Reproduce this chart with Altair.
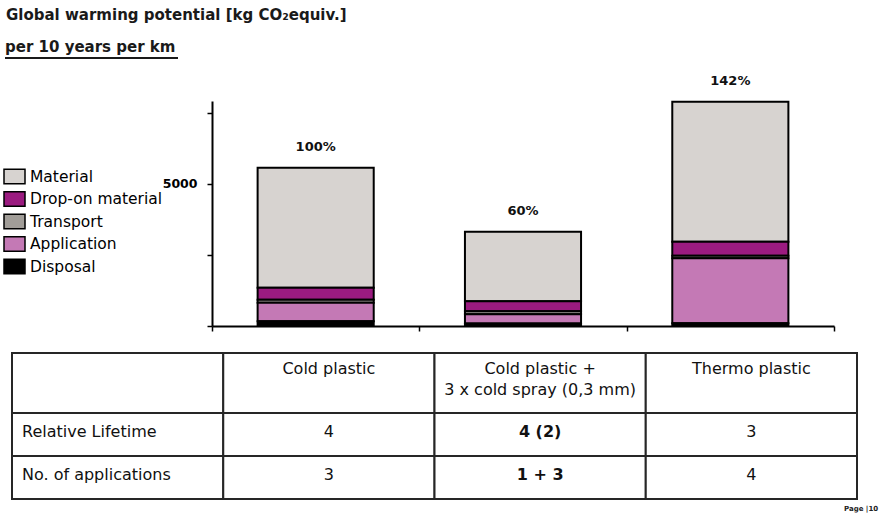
import altair as alt
import pandas as pd

# Product systems compared
categories = ["Cold plastic", "Cold plastic + 3 x cold spray (0,3 mm)", "Thermo plastic"]

# Life-cycle stages, listed top of the stack first
components = ["Material", "Drop-on material", "Transport", "Application", "Disposal"]
component_colors = ["#D7D3D0", "#9B1B80", "#A19D98", "#C479B5", "#000000"]

# Global warming potential per stage [kg CO2 equiv.] for each product system
material = [4220, 2450, 4930]
drop_on = [430, 350, 490]
transport = [100, 110, 90]
application = [650, 320, 2290]
disposal = [170, 90, 95]

# Totals relative to cold plastic
share_labels = ["100%", "60%", "142%"]

# Table under the chart
header_texts = ["", "Cold plastic", "Cold plastic +\n3 x cold spray (0,3 mm)", "Thermo plastic"]
row_labels = ["Relative Lifetime", "No. of applications"]
relative_lifetime = ["4", "4 (2)", "3"]
no_of_applications = ["3", "1 + 3", "4"]
emphasised = [False, True, False]

SANS = "DejaVu Sans"

# ---- long-form data for the stacked bars
series = [material, drop_on, transport, application, disposal]
records = []
for ci, comp in enumerate(components):
    for k, cat in enumerate(categories):
        records.append({
            "category": cat,
            "component": comp,
            "value": series[ci][k],
            "level": len(components) - 1 - ci,  # 0 = bottom of the stack
        })
bar_df = pd.DataFrame(records)

total_df = bar_df.groupby("category", sort=False, as_index=False)["value"].sum()
total_df["share"] = share_labels

x_bar = alt.X(
    "category:N",
    sort=categories,
    scale=alt.Scale(paddingInner=0, paddingOuter=0),
    axis=alt.Axis(
        title=None, labels=False, tickBand="extent", tickSize=5,
        tickColor="black", tickWidth=1.5, domainColor="black",
        domainWidth=2, grid=False,
    ),
)
y_scale = alt.Scale(domain=[0, 7920], nice=False, zero=True)

bars = alt.Chart(bar_df).mark_bar(
    width=alt.RelativeBandSize(0.56), stroke="black", strokeWidth=2
).encode(
    x=x_bar,
    y=alt.Y(
        "value:Q",
        stack="zero",
        scale=y_scale,
        axis=alt.Axis(
            title=None, values=[0, 2500, 5000, 7500],
            labelExpr="datum.value == 5000 ? '5000' : ''",
            labelFont=SANS, labelFontWeight="bold", labelFontSize=12.5,
            labelColor="black", labelPadding=10, tickSize=5,
            tickColor="black", tickWidth=1.5, domainColor="black",
            domainWidth=2, grid=False,
        ),
    ),
    color=alt.Color(
        "component:N",
        sort=components,
        scale=alt.Scale(domain=components, range=component_colors),
        legend=alt.Legend(
            title=None, orient="none", legendX=-209, legendY=64, padding=0,
            symbolType="M-1,-0.7L1,-0.7L1,0.7L-1,0.7Z", symbolSize=441,
            symbolStrokeColor="black", symbolStrokeWidth=1.5, symbolOpacity=1,
            labelFont=SANS, labelFontSize=15.5, labelColor="black",
            labelOffset=4, rowPadding=0.5,
        ),
    ),
    order=alt.Order("level:Q", sort="ascending"),
)

shares = alt.Chart(total_df).mark_text(
    font=SANS, fontWeight="bold", fontSize=13, color="#111111",
    baseline="middle", dy=-21,
).encode(
    x=alt.X("category:N", sort=categories),
    y=alt.Y("value:Q", scale=y_scale),
    text="share:N",
)

plot = alt.layer(bars, shares)

# ---- table (each layer gets the same explicit band scales)
col_ids = list(range(len(header_texts)))


def table_x(**kw):
    return alt.X(
        "col:O",
        scale=alt.Scale(type="band", domain=col_ids, range=[-200, 645],
                        paddingInner=0, paddingOuter=0),
        axis=None, **kw,
    )


def head_y(**kw):
    return alt.Y(
        "row:N",
        scale=alt.Scale(type="band", domain=["head"], range=[252, 312],
                        paddingInner=0, paddingOuter=0),
        axis=None, **kw,
    )


def body_y(**kw):
    return alt.Y(
        "row:N",
        scale=alt.Scale(type="band", domain=row_labels, range=[312, 398],
                        paddingInner=0, paddingOuter=0),
        axis=None, **kw,
    )


head_df = pd.DataFrame({"col": col_ids,
                        "row": ["head"] * len(header_texts),
                        "text": header_texts})

body_records = []
for r, (label, vals) in enumerate(zip(row_labels, [relative_lifetime, no_of_applications])):
    body_records.append({"row": label, "col": 0, "text": label, "bold": False, "kind": "label"})
    for k, v in enumerate(vals):
        body_records.append({"row": label, "col": k + 1, "text": v,
                             "bold": emphasised[k], "kind": "value"})
body_df = pd.DataFrame(body_records)

cell_style = dict(fill="white", stroke="#262626", strokeWidth=2)
text_style = dict(font=SANS, fontSize=16, color="#111111")

head_cells = alt.Chart(head_df).mark_rect(**cell_style).encode(
    x=table_x(), y=head_y(),
)
head_text = alt.Chart(head_df).mark_text(
    baseline="top", lineBreak="\n", lineHeight=21, dy=8, **text_style,
).encode(
    x=table_x(bandPosition=0.5),
    y=head_y(bandPosition=0),
    text="text:N",
)

body_cells = alt.Chart(body_df).mark_rect(**cell_style).encode(
    x=table_x(), y=body_y(),
)
body_labels = alt.Chart(body_df).transform_filter(
    alt.datum.kind == "label"
).mark_text(
    align="left", baseline="middle", dx=10, dy=-3, **text_style,
).encode(
    x=table_x(bandPosition=0),
    y=body_y(bandPosition=0.5),
    text="text:N",
)
body_plain = alt.Chart(body_df).transform_filter(
    (alt.datum.kind == "value") & (alt.datum.bold == False)
).mark_text(
    baseline="middle", dy=-3, **text_style,
).encode(
    x=table_x(bandPosition=0.5),
    y=body_y(bandPosition=0.5),
    text="text:N",
)
body_bold = alt.Chart(body_df).transform_filter(
    (alt.datum.kind == "value") & (alt.datum.bold == True)
).mark_text(
    baseline="middle", dy=-3, fontWeight="bold", **text_style,
).encode(
    x=table_x(bandPosition=0.5),
    y=body_y(bandPosition=0.5),
    text="text:N",
)

# ---- headings and footer
one = pd.DataFrame({"a": [0]})
title_main = alt.Chart(one).mark_text(
    text="Global warming potential [kg CO₂equiv.]", font=SANS, fontWeight="bold",
    fontSize=15, color="#1a1a1a", align="left", baseline="alphabetic",
).encode(x=alt.value(-206), y=alt.value(-81))
title_sub = alt.Chart(one).mark_text(
    text="per 10 years per km", font=SANS, fontWeight="bold",
    fontSize=15, color="#1a1a1a", align="left", baseline="alphabetic",
).encode(x=alt.value(-207), y=alt.value(-49))
title_rule = alt.Chart(one).mark_rule(color="#1a1a1a", strokeWidth=2).encode(
    x=alt.value(-207), x2=alt.value(-34), y=alt.value(-43)
)
footer = alt.Chart(one).mark_text(
    text="Page |10", font=SANS, fontWeight="bold", fontSize=7,
    color="#222222", align="left", baseline="middle",
).encode(x=alt.value(632), y=alt.value(408))

chart = alt.layer(
    head_cells, body_cells, head_text, body_labels, body_plain, body_bold,
    plot, title_main, title_sub, title_rule, footer,
).resolve_scale(
    x="independent", y="independent"
).properties(
    width=622,
    height=225,
    background="white",
    autosize=alt.AutoSizeParams(type="none"),
    padding={"left": 212, "top": 101, "right": 46, "bottom": 192},
).configure_view(stroke=None)

chart.save("out.html", embed_options={"renderer": "svg", "actions": False})
